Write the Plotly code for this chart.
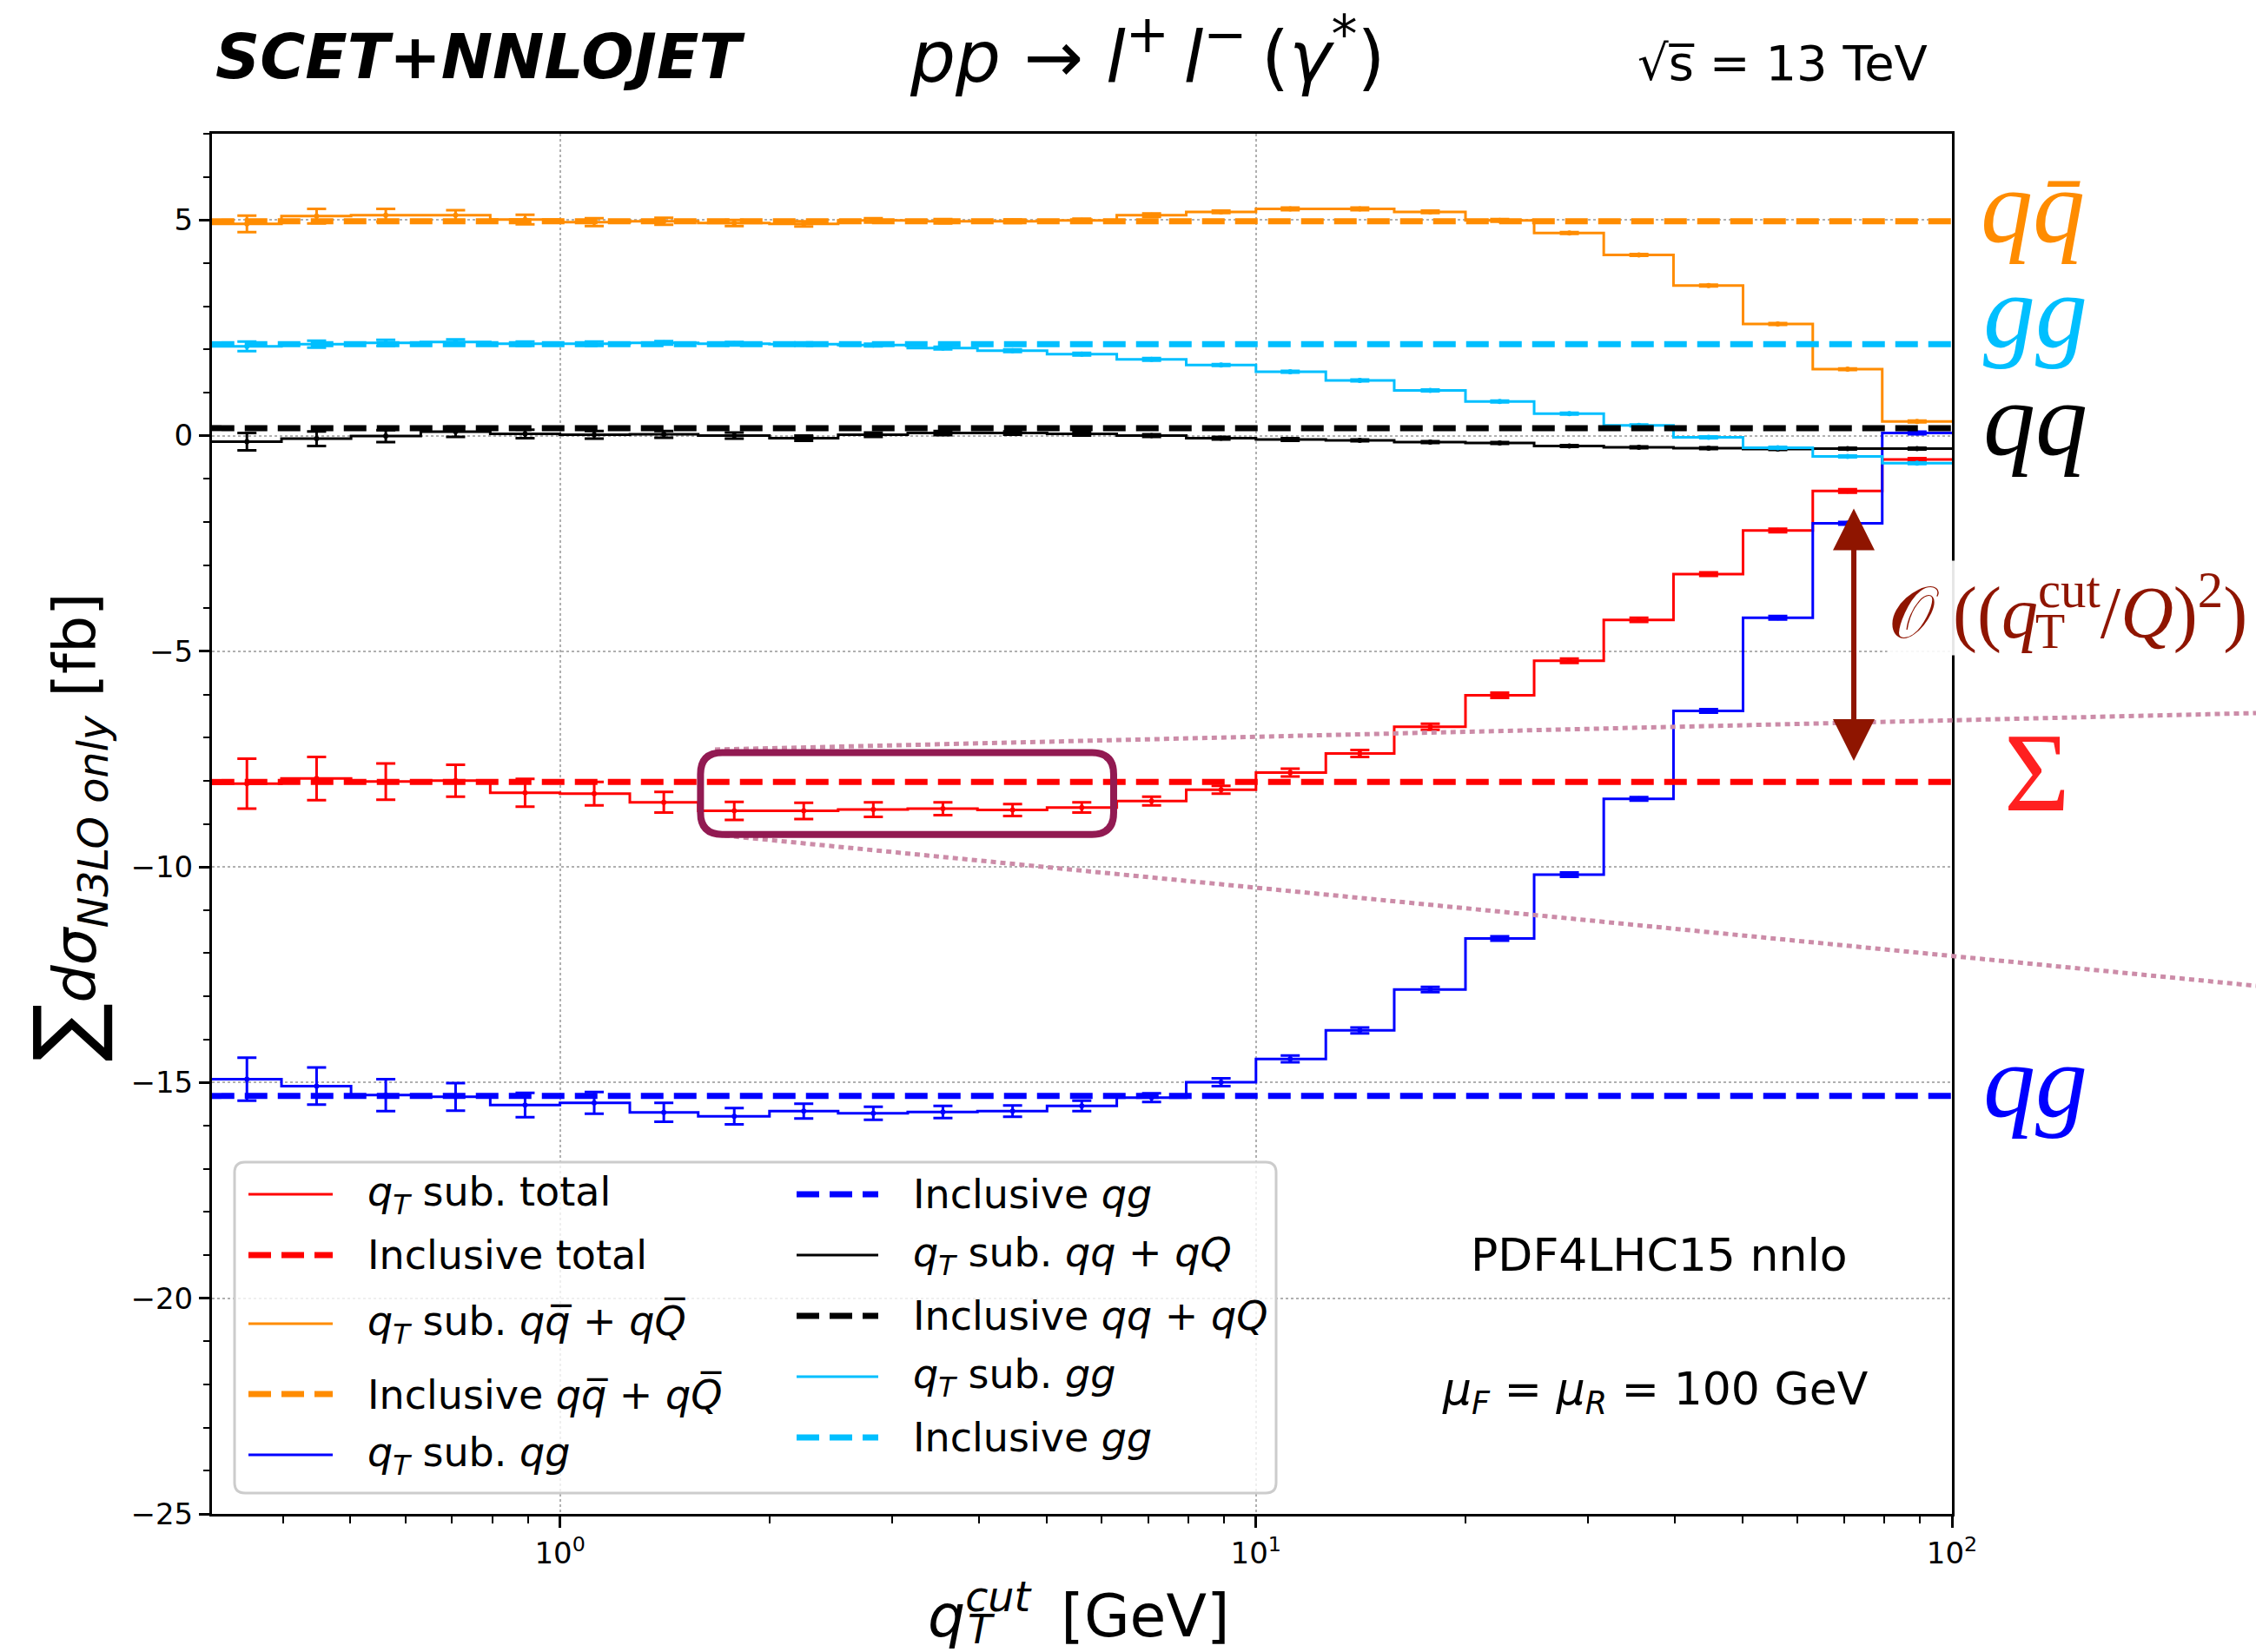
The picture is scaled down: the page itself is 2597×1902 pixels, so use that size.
import plotly.graph_objects as go

# ---------------------------------------------------------------- data
# q_T^cut bins in GeV (10 bins per decade): edges and logarithmic centres
qt_edges = [0.316, 0.398, 0.501, 0.631, 0.794, 1.0, 1.26, 1.58, 2.0, 2.51, 3.16, 3.98, 5.01,
            6.31, 7.94, 10.0, 12.6, 15.8, 20.0, 25.1, 31.6, 39.8, 50.1, 63.1, 79.4, 100.0]
qt_centres = [0.355, 0.447, 0.562, 0.708, 0.891, 1.12, 1.41, 1.78, 2.24, 2.82, 3.55, 4.47, 5.62,
              7.08, 8.91, 11.2, 14.1, 17.8, 22.4, 28.2, 35.5, 44.7, 56.2, 70.8, 89.1]

# q_T-subtracted N3LO coefficient per channel [fb]
sub_total = [-8.07, -7.95, -8.02, -8.00, -8.28, -8.30, -8.50, -8.70, -8.70, -8.67, -8.65, -8.68, -8.62,
             -8.47, -8.21, -7.81, -7.37, -6.75, -6.02, -5.22, -4.27, -3.21, -2.20, -1.28, -0.55]
sub_qqbar = [4.91, 5.09, 5.11, 5.11, 5.01, 4.95, 4.97, 4.93, 4.91, 4.99, 4.97, 4.97, 4.99,
             5.11, 5.19, 5.26, 5.26, 5.19, 4.99, 4.70, 4.19, 3.48, 2.59, 1.54, 0.33]
sub_gg = [2.07, 2.12, 2.15, 2.17, 2.13, 2.13, 2.15, 2.13, 2.12, 2.10, 2.03, 1.97, 1.89,
          1.77, 1.64, 1.48, 1.28, 1.05, 0.79, 0.51, 0.24, -0.04, -0.28, -0.48, -0.64]
sub_qq = [-0.14, -0.07, -0.01, 0.09, 0.04, 0.02, 0.03, 0.00, -0.06, 0.02, 0.06, 0.06, 0.04,
          0.00, -0.06, -0.09, -0.11, -0.15, -0.17, -0.24, -0.27, -0.29, -0.31, -0.30, -0.30]
sub_qg = [-14.92, -15.08, -15.29, -15.33, -15.52, -15.47, -15.69, -15.78, -15.66, -15.71, -15.68, -15.66, -15.54,
          -15.35, -14.99, -14.45, -13.79, -12.84, -11.66, -10.18, -8.42, -6.38, -4.22, -2.03, 0.06]

# statistical uncertainties of the subtracted results [fb]
err_total = [0.58, 0.50, 0.42, 0.37, 0.32, 0.27, 0.24, 0.21, 0.19, 0.17, 0.15, 0.14, 0.12,
             0.10, 0.09, 0.09, 0.08, 0.07, 0.06, 0.05, 0.05, 0.04, 0.04, 0.04, 0.03]
err_qqbar = [0.19, 0.17, 0.15, 0.12, 0.11, 0.09, 0.08, 0.07, 0.06, 0.05, 0.05, 0.04, 0.04,
             0.04, 0.03, 0.03, 0.03, 0.03, 0.03, 0.02, 0.02, 0.02, 0.02, 0.02, 0.02]
err_gg = [0.11, 0.08, 0.07, 0.06, 0.05, 0.05, 0.04, 0.04, 0.04, 0.03, 0.03, 0.03, 0.03,
          0.03, 0.02, 0.02, 0.02, 0.02, 0.02, 0.02, 0.02, 0.02, 0.02, 0.02, 0.02]
err_qq = [0.20, 0.17, 0.14, 0.12, 0.10, 0.09, 0.08, 0.07, 0.06, 0.05, 0.05, 0.04, 0.04,
          0.03, 0.03, 0.03, 0.02, 0.02, 0.02, 0.02, 0.02, 0.02, 0.02, 0.02, 0.02]
err_qg = [0.50, 0.43, 0.37, 0.32, 0.28, 0.25, 0.22, 0.19, 0.17, 0.15, 0.14, 0.13, 0.12,
          0.10, 0.09, 0.08, 0.07, 0.06, 0.05, 0.05, 0.04, 0.04, 0.04, 0.03, 0.03]

# inclusive N3LO coefficients [fb]
incl_total = -8.03
incl_qqbar = 4.97
incl_gg = 2.12
incl_qq = 0.175
incl_qg = -15.31

# axis ticks
y_ticks = [-25, -20, -15, -10, -5, 0, 5]
x_ticks = [1, 10, 100]
x_ticktext = ["10<sup>0</sup>", "10<sup>1</sup>", "10<sup>2</sup>"]
x_minor = [0.4, 0.5, 0.6, 0.7, 0.8, 0.9, 2, 3, 4, 5, 6, 7, 8, 9, 20, 30, 40, 50, 60, 70, 80, 90]

# ---------------------------------------------------------------- style
RED, ORANGE, BLUE, BLACK, SKY = "#ff0000", "#ff8c00", "#0000ff", "#000000", "#00bfff"
DARKRED = "#8f1500"
BOXCOL = "#921a52"
LINKCOL = "#cc8ca8"
DASH = "26px,12px"
FONT = "DejaVu Sans"
SERIF = "Liberation Serif"

W, H = 2597, 1902
PL, PR, PT, PB = 244, 2247, 154, 1743  # plot area in pixels


def px(x):
    return (x - PL) / (PR - PL)


def py(y):
    return (PB - y) / (PB - PT)


series = [
    (sub_total, err_total, incl_total, RED),
    (sub_qqbar, err_qqbar, incl_qqbar, ORANGE),
    (sub_qg, err_qg, incl_qg, BLUE),
    (sub_qq, err_qq, incl_qq, BLACK),
    (sub_gg, err_gg, incl_gg, SKY),
]

fig = go.Figure()

# step histograms with error bars at the bin centres
for vals, errs, incl, col in series:
    fig.add_trace(go.Scatter(x=qt_edges, y=vals + [vals[-1]], mode="lines", line_shape="hv",
                             line=dict(color=col, width=3), showlegend=False, hoverinfo="skip"))
    fig.add_trace(go.Scatter(x=qt_centres, y=vals, mode="markers", marker=dict(size=0, color=col),
                             error_y=dict(type="data", array=errs, color=col, thickness=3, width=11),
                             showlegend=False, hoverinfo="skip"))

# inclusive reference values
for vals, errs, incl, col in series:
    fig.add_trace(go.Scatter(x=[qt_edges[0], qt_edges[-1]], y=[incl, incl], mode="lines",
                             line=dict(color=col, width=7, dash=DASH), showlegend=False, hoverinfo="skip"))

shapes = []
annotations = []


def text(t, x, y, size, color="black", family=FONT, xanchor="center", yanchor="middle", **kw):
    annotations.append(dict(text=t, x=px(x), y=py(y), xref="paper", yref="paper", showarrow=False,
                            xanchor=xanchor, yanchor=yanchor,
                            font=dict(size=size, color=color, family=family), **kw))


# highlighted plateau region of the total
bx0, bx1, by_top, by_bot = 1.592, 6.245, -7.35, -9.245
fx, ry = 1.0744, 0.5
box_path = (f"M {bx0*fx},{by_top} L {bx1/fx},{by_top} Q {bx1},{by_top} {bx1},{by_top-ry} "
            f"L {bx1},{by_bot+ry} Q {bx1},{by_bot} {bx1/fx},{by_bot} L {bx0*fx},{by_bot} "
            f"Q {bx0},{by_bot} {bx0},{by_bot+ry} L {bx0},{by_top-ry} Q {bx0},{by_top} {bx0*fx},{by_top} Z")

# zoom-out guide lines from the highlighted region
shapes.append(dict(type="line", xref="paper", yref="paper", x0=px(823), y0=py(863), x1=px(2597), y1=py(821),
                   line=dict(color=LINKCOL, width=5, dash="6px,5px"), layer="above"))
shapes.append(dict(type="line", xref="paper", yref="paper", x0=px(834), y0=py(962), x1=px(2597), y1=py(1135),
                   line=dict(color=LINKCOL, width=5, dash="6px,5px"), layer="above"))
shapes.append(dict(type="path", xref="x", yref="y", path=box_path, line=dict(color=BOXCOL, width=8),
                   layer="above"))

# power-correction arrow
annotations.append(dict(x=1.859, y=-1.69, ax=1.859, ay=-7.57, xref="x", yref="y", axref="x", ayref="y",
                        text="", showarrow=True, arrowside="end+start", arrowhead=2, startarrowhead=2,
                        arrowsize=1.6, startarrowsize=1.6, arrowwidth=6, arrowcolor=DARKRED))

# ---------------------------------------------------------------- legend (two columns in one frame)
leg_labels = [
    "<i>q</i><sub><i>T</i></sub> sub. total",
    "Inclusive total",
    "<i>q</i><sub><i>T</i></sub> sub. <i>qq\u0305</i> + <i>qQ\u0305</i>",
    "Inclusive <i>qq\u0305</i> + <i>qQ\u0305</i>",
    "<i>q</i><sub><i>T</i></sub> sub. <i>qg</i>",
    "Inclusive <i>qg</i>",
    "<i>q</i><sub><i>T</i></sub> sub. <i>qq</i> + <i>qQ</i>",
    "Inclusive <i>qq</i> + <i>qQ</i>",
    "<i>q</i><sub><i>T</i></sub> sub. <i>gg</i>",
    "Inclusive <i>gg</i>",
]
leg_colors = [RED, RED, ORANGE, ORANGE, BLUE, BLUE, BLACK, BLACK, SKY, SKY]
leg_dashed = [False, True, False, True, False, True, False, True, False, True]
leg_rows = [1375, 1445, 1524, 1605, 1675, 1375, 1445, 1515, 1585, 1655]

lx0, lx1, ly0, ly1, lr = px(270), px(1469), py(1338), py(1719), 0.006
lry = lr * (PR - PL) / (PB - PT)
shapes.append(dict(type="path", xref="paper", yref="paper", layer="above",
                   path=(f"M {lx0+lr},{ly0} L {lx1-lr},{ly0} Q {lx1},{ly0} {lx1},{ly0-lry} "
                         f"L {lx1},{ly1+lry} Q {lx1},{ly1} {lx1-lr},{ly1} L {lx0+lr},{ly1} "
                         f"Q {lx0},{ly1} {lx0},{ly1+lry} L {lx0},{ly0-lry} Q {lx0},{ly0} {lx0+lr},{ly0} Z"),
                   fillcolor="rgba(255,255,255,0.8)", line=dict(color="#cccccc", width=3)))
for i, (lab, col, dashed, row) in enumerate(zip(leg_labels, leg_colors, leg_dashed, leg_rows)):
    s0, s1, tx = (286, 383, 421) if i < 5 else (917, 1011, 1049)
    shapes.append(dict(type="line", xref="paper", yref="paper", layer="above",
                       x0=px(s0), x1=px(s1), y0=py(row), y1=py(row),
                       line=dict(color=col, width=7 if dashed else 3, dash=DASH if dashed else "solid")))
    text(lab, tx, row, 46, xanchor="left")

# ---------------------------------------------------------------- text labels
text("<b><i>SCET+NNLOJET</i></b>", 246, 65, 71, xanchor="left")
SUP = "<span style='font-size:60px'>{}</span>"
text("<i>pp</i> \u2192 <i>l</i><sup>" + SUP.format("+") + "</sup>\u2009<i>l</i><sup>" + SUP.format("\u2212")
     + "</sup>\u2009(<i>\u03b3</i><sup>" + SUP.format("*") + "</sup>)", 1320, 58, 82)
text("\u221as\u0305 = 13 TeV", 2052, 72, 56)

text("<i>qq\u0304</i>", 2340, 238, 120, color=ORANGE, family=SERIF)
text("<i>gg</i>", 2343, 358, 120, color=SKY, family=SERIF)
text("<i>qq</i>", 2343, 482, 120, color=BLACK, family=SERIF)
text("\u03a3", 2345, 889, 130, color="#ff2020", family=SERIF)
text("<i>qg</i>", 2343, 1244, 120, color=BLUE, family=SERIF)

text("\U0001D4AA ((<i>q</i><sup>cut</sup>/<i>Q</i>)<sup>2</sup>)", 2172, 700, 84, color=DARKRED,
     family=SERIF, xanchor="left", bgcolor="rgba(255,255,255,0.9)")
text("T", 2360, 727, 56, color=DARKRED, family=SERIF)

text("PDF4LHC15 nnlo", 1910, 1445, 52)
text("<i>\u03bc</i><sub><i>F</i></sub> = <i>\u03bc</i><sub><i>R</i></sub> = 100 GeV", 1905, 1603, 52)

# axis titles
text("<span style='font-size:100px'>\u2211</span><i>d\u03c3</i><sub><i>N3LO only</i></sub> [fb]",
     76, 952, 68, textangle=-90)
text("<i>q</i><sup><i>cut</i></sup> \u2009[GeV]", 1066, 1902, 68, xanchor="left", yanchor="bottom")
text("<i>T</i>", 1112, 1876, 46, xanchor="left")

fig.update_layout(
    width=W, height=H, margin=dict(l=PL, r=W - PR, t=PT, b=H - PB),
    paper_bgcolor="white", plot_bgcolor="white",
    font=dict(family=FONT, color="black"),
    shapes=shapes, annotations=annotations, showlegend=False,
)
fig.update_xaxes(type="log", range=[-0.5, 2], showline=True, linecolor="black", linewidth=3, mirror=True,
                 ticks="outside", ticklen=13, tickwidth=2.5, tickcolor="black",
                 tickmode="array", tickvals=x_ticks, ticktext=x_ticktext, tickfont=dict(size=34),
                 showgrid=True, gridcolor="#b0b0b0", griddash="dot", gridwidth=2, zeroline=False,
                 minor=dict(tickmode="array", tickvals=x_minor, ticks="outside", ticklen=8, tickwidth=2,
                            tickcolor="black", showgrid=False))
fig.update_yaxes(range=[-25, 7], showline=True, linecolor="black", linewidth=3, mirror=True,
                 ticks="outside", ticklen=12, tickwidth=2.5, tickcolor="black",
                 tickmode="array", tickvals=y_ticks, tickfont=dict(size=34),
                 showgrid=True, gridcolor="#b0b0b0", griddash="dot", gridwidth=2, zeroline=False,
                 minor=dict(tick0=0, dtick=1, ticks="outside", ticklen=7, tickwidth=2, tickcolor="black",
                            showgrid=False))

fig.write_html("out.html")
